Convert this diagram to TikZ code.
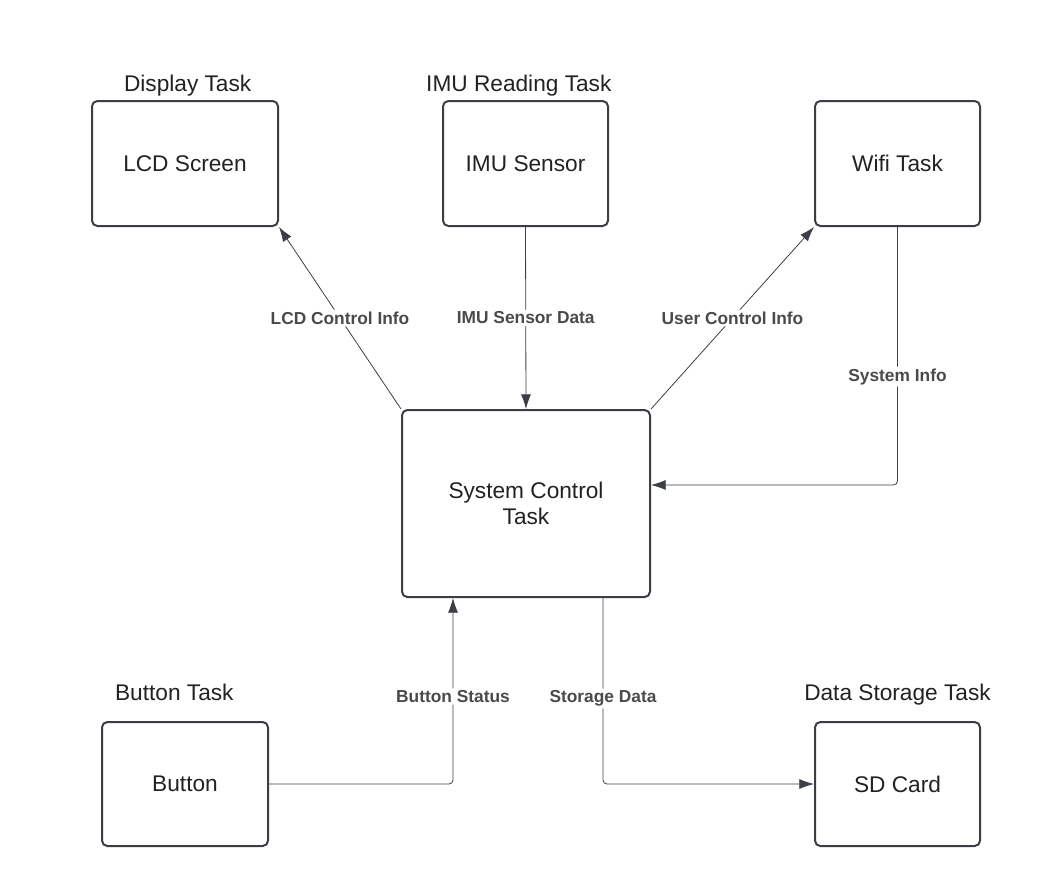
\documentclass[tikz,border=0pt]{standalone}
\usepackage{fontspec}
\setmainfont{Liberation Sans}
\usetikzlibrary{positioning,arrows.meta}
\definecolor{edge}{HTML}{3B3F45}
\definecolor{txt}{HTML}{222222}
\definecolor{labtxt}{HTML}{4A4A4A}
\tikzset{
 blk/.style
  = {rectangle, draw=edge, line width=1.5pt, rounded corners=4pt, text=txt,
     font=\fontsize{17}{20}\selectfont, align=center, fill=white},
 tsk/.style
  = {text=txt, font=\fontsize{17}{20}\selectfont, inner sep=0pt,
     text height=12pt, text depth=3.5pt},
 l/.style
  = {draw=edge, line width=0.6pt, -{Latex[length=11pt,width=7.5pt]}, rounded corners=3pt},
 lab/.style
  = {fill=white, text=labtxt, font=\bfseries\fontsize{13}{15}\selectfont, inner sep=1.5pt},
}
\begin{document}
\begin{tikzpicture}[x=0.75pt, y=-0.75pt]
    \useasboundingbox (0,0) rectangle (1063,894);

    \node [blk, minimum width=139.5pt, minimum height=93.75pt] (lcd) at (185,163.5) {LCD Screen};
    \node [blk, minimum width=123.75pt, minimum height=93.75pt] (imu) at (525.5,163.5) {IMU Sensor};
    \node [blk, minimum width=123.75pt, minimum height=93.75pt] (wifi) at (897.5,163.5) {Wifi Task};
    \node [blk, minimum width=186pt, minimum height=140.25pt] (sys) at (526,503.5) {System Control\\ Task};
    \node [blk, minimum width=124.5pt, minimum height=93pt] (btn) at (185,784) {Button};
    \node [blk, minimum width=123.75pt, minimum height=93pt] (sd) at (897.5,784) {SD Card};

    \node [tsk, above=3pt of lcd, xshift=2pt] (lcdtask) {Display Task};
    \node [tsk, above=3pt of imu, xshift=-5pt] (imutask) {IMU Reading Task};
    \node [tsk, above=12pt of btn, xshift=-8pt] (btntask) {Button Task};
    \node [tsk, above=12pt of sd] (sdtask) {Data Storage Task};

    \path [l] (sys.north west) -- (lcd.south east) node[lab, midway]{LCD Control Info};
    \path [l] (imu.south) -- (sys.north) node[lab, midway]{IMU Sensor Data};
    \path [l] (sys.north east) -- (wifi.south west) node[lab, midway]{User Control Info};
    \path [l] (wifi.south) |- ([yshift=13.9pt]sys.east) node[lab, pos=0.29]{System Info};
    \path [l] (btn.east) -| ([xshift=-54.75pt]sys.south) node[lab, pos=0.735]{Button Status};
    \path [l] ([xshift=57.75pt]sys.south) |- (sd.west) node[lab, pos=0.27]{Storage Data};
  \end{tikzpicture}
\end{document}
